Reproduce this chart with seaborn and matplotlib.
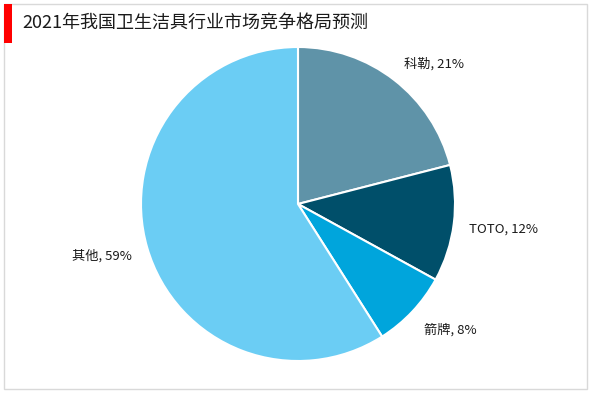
import matplotlib
matplotlib.use("Agg")
import matplotlib.pyplot as plt
import seaborn as sns
from matplotlib.patches import Rectangle

categories = ["科勒", "TOTO", "箭牌", "其他"]
values = [21, 12, 8, 59]
colors = ["#5F93A8", "#004F6A", "#00A5DC", "#6BCDF4"]
title = "2021年我国卫生洁具行业市场竞争格局预测"

sns.set_theme(style="white")
plt.rcParams['font.family'] = ['Noto Sans CJK SC', 'DejaVu Sans']

fig = plt.figure(figsize=(6, 3.93), dpi=100)
W, H = 600, 393
cx, cy, r = 298, 204, 157
ax = fig.add_axes([(cx - r) / W, (H - cy - r) / H, 2 * r / W, 2 * r / H])

labels = [f"{c}, {v}%" for c, v in zip(categories, values)]
wedges, texts = ax.pie(values, labels=labels, colors=colors, startangle=90, counterclock=False,
                       labeldistance=1.1, radius=1.0,
                       wedgeprops=dict(edgecolor="white", linewidth=1.5),
                       textprops=dict(fontsize=9.5, color="#1a1a1a"))
# small vertical nudges of label placement
label_dy = [0.025, -0.02, -0.05, -0.025]
for t, dy in zip(texts, label_dy):
    x, y = t.get_position()
    t.set_position((x, y + dy))
ax.set_xlim(-1, 1)
ax.set_ylim(-1, 1)
ax.set_aspect('auto')

# border
fig.patches.append(Rectangle((4 / W, (H - 389) / H), 583 / W, 385 / H,
                             transform=fig.transFigure, fill=False,
                             edgecolor="#D9D9D9", linewidth=1.0))
# red bar
fig.patches.append(Rectangle((4 / W, (H - 43) / H), 8 / W, 39 / H,
                             transform=fig.transFigure, facecolor="#FF0000",
                             edgecolor="none"))
fig.text(22 / W, (H - 23) / H, title, fontsize=13, va="center", ha="left", color="#1a1a1a")

fig.savefig("out.png", dpi=100)
